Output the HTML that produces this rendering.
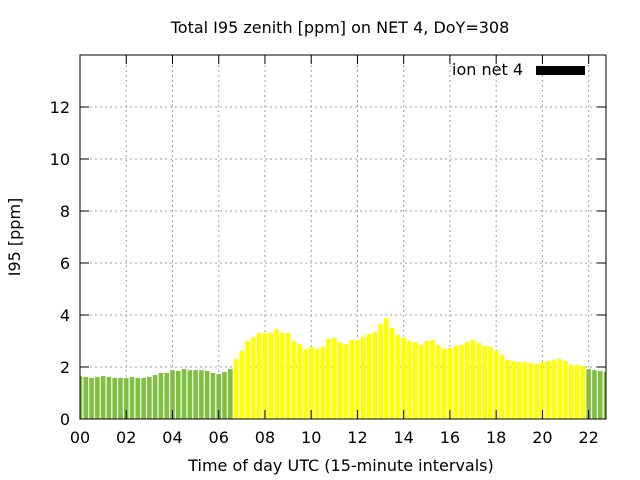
<!DOCTYPE html>
<html><head><meta charset="utf-8"><style>
body{margin:0;background:#fff}
svg{display:block;font-family:"DejaVu Sans","Liberation Sans",sans-serif}
</style></head><body>
<svg id="chart" width="640" height="480">
<text x="340" y="33" text-anchor="middle" font-size="16">Total I95 zenith [ppm] on NET 4, DoY=308</text>
<text x="341" y="471" text-anchor="middle" font-size="16">Time of day UTC (15-minute intervals)</text>
<text transform="translate(20,237) rotate(-90)" text-anchor="middle" font-size="16">I95 [ppm]</text>
<g id="grid"></g><g id="bars"></g><g id="axes"></g>
<text x="523" y="75" text-anchor="end" font-size="16">ion net 4</text>
<rect x="536" y="66" width="49" height="9" fill="#000"/>
</svg>
<script>
const values=[1.65,1.62,1.58,1.62,1.65,1.62,1.58,1.58,1.58,1.62,1.58,1.58,1.62,1.69,1.77,1.77,1.88,1.85,1.92,1.88,1.88,1.88,1.85,1.77,1.73,1.81,1.92,
2.31,2.62,3.0,3.15,3.31,3.31,3.31,3.46,3.31,3.31,3.0,2.88,2.69,2.77,2.69,2.77,3.08,3.12,2.96,2.88,3.04,3.04,3.15,3.27,3.35,3.65,3.88,3.5,3.23,3.12,3.0,2.96,2.85,3.0,3.04,2.85,2.69,2.73,2.81,2.85,2.96,3.04,2.92,2.81,2.77,2.62,2.46,2.27,2.23,2.19,2.19,2.15,2.12,2.19,2.23,2.27,2.31,2.23,2.08,2.08,2.04,
1.92,1.88,1.85,1.81];
const yTicks=[0,2,4,6,8,10,12];
const xTicks=[0,2,4,6,8,10,12,14,16,18,20,22];
const threshold=2;
const L=80,R=606,T=55,B=419,xMax=22.75,yMax=14;
const NS="http://www.w3.org/2000/svg";
const xs=h=>L+(R-L)*h/xMax, ys=v=>B-(B-T)*v/yMax;
const grid=document.getElementById('grid'),bars=document.getElementById('bars'),axes=document.getElementById('axes');
function mk(tag,at,parent){const e=document.createElementNS(NS,tag);for(const k in at)e.setAttribute(k,at[k]);parent.appendChild(e);return e;}
yTicks.forEach(v=>{const y=ys(v);
 if(v>0){const g=mk('line',{x1:L,x2:R,y1:y,y2:y,stroke:'#a0a0a0','stroke-dasharray':'2,3'},grid);
 
 }
 const t=mk('line',{x1:L,x2:L+9,y1:y,y2:y,stroke:'#000'},axes);
 
 
 const t2=mk('line',{x1:R-9,x2:R,y1:y,y2:y,stroke:'#000'},axes);
 
 
 const l=mk('text',{x:L-10,y:y+6,'text-anchor':'end','font-size':16},axes);l.textContent=v;
 
 
});
xTicks.forEach(h=>{const x=xs(h);
 if(h>0){const g=mk('line',{x1:x,x2:x,y1:T,y2:B,stroke:'#a0a0a0','stroke-dasharray':'2,3'},grid);
 
 }
 const t=mk('line',{x1:x,x2:x,y1:B-9,y2:B,stroke:'#000'},axes);
 
 
 const t2=mk('line',{x1:x,x2:x,y1:T,y2:T+9,stroke:'#000'},axes);
 
 
 const l=mk('text',{x:x,y:B+24,'text-anchor':'middle','font-size':16},axes);l.textContent=String(h).padStart(2,'0');
 
 
});
const bw=(R-L)/(xMax*4)*0.8;
values.forEach((v,i)=>{const c=xs(i*0.25);let x0=Math.max(L,c-bw/2),x1=Math.min(R,c+bw/2);
 const r=mk('rect',{x:x0,y:ys(v),width:x1-x0,height:B-ys(v),fill:v<threshold?'#80c040':'#ffff00'},bars);
 
 
});
const f=mk('rect',{x:L,y:T,width:R-L,height:B-T,fill:'none',stroke:'#000','stroke-width':1},axes);


</script>
</body></html>
